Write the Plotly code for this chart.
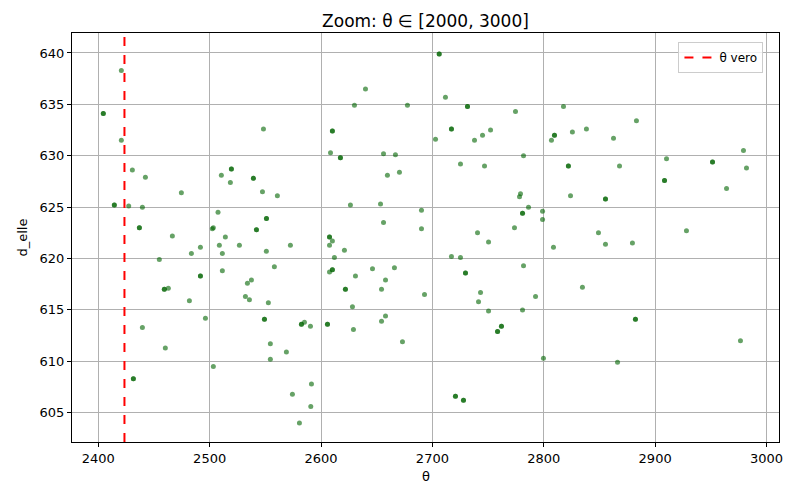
import plotly.graph_objects as go

# valori (i punti scuri sono campioni ripetuti -> compaiono due volte)
theta = [
    2420.7, 2404.5, 2404.5, 2420.7, 2548.3, 2430.6, 2442.3, 2519.5, 2519.5, 2510.5,
    2518.6, 2539.3, 2539.3, 2547.4, 2560.8, 2474.6, 2414.4, 2414.4, 2427.3, 2439.6,
    2507.5, 2551.0, 2551.0, 2436.9, 2436.9, 2502.4, 2503.3, 2542.0, 2542.0, 2466.5,
    2514.1,
    2706.1, 2706.1, 2639.9, 2630.0, 2677.6, 2711.7, 2731.5, 2731.5, 2774.6, 2610.2,
    2610.2, 2717.1, 2717.1, 2702.8, 2737.8, 2745.0, 2752.2, 2608.5, 2617.4, 2617.4,
    2656.1, 2666.8, 2781.8, 2725.2, 2746.8, 2659.6, 2670.4, 2779.1, 2778.2, 2786.3,
    2780.9, 2780.9, 2626.4, 2653.4, 2690.2, 2656.1, 2690.2, 2773.7, 2740.5, 2798.9,
    2798.9, 2607.6, 2607.6, 2610.2, 2750.4,
    2817.7, 2883.2, 2809.6, 2809.6, 2806.9, 2825.7, 2838.3, 2862.6, 2979.3, 2910.2,
    2822.1, 2822.1, 2868.0, 2951.5, 2951.5, 2982.0, 2908.4, 2908.4, 2964.1, 2824.0,
    2855.4, 2855.4, 2849.1, 2928.1,
    2808.7, 2855.4, 2879.6, 2834.7, 2882.3, 2882.3, 2976.6, 2799.7, 2866.2,
    2491.7, 2483.6, 2508.7, 2511.4, 2526.7, 2550.9, 2572.5, 2454.8, 2511.4, 2558.1,
    2491.7, 2491.7, 2459.3, 2459.3, 2462.9, 2533.9, 2537.5, 2481.8, 2532.1, 2535.7,
    2552.7, 2496.2, 2549.2, 2549.2, 2582.4, 2582.4, 2585.1, 2590.5, 2439.6, 2460.2,
    2554.5, 2568.9, 2554.5, 2503.3, 2431.5, 2431.5, 2574.3, 2590.8, 2580.6, 2591.4,
    2607.6, 2621.0, 2612.0, 2607.6, 2610.2, 2610.2, 2630.9, 2646.2, 2665.9, 2657.9,
    2654.3, 2621.9, 2621.9, 2692.9, 2628.2, 2657.9, 2654.3, 2673.1, 2605.8, 2605.8,
    2629.1, 2720.7, 2720.7, 2727.9, 2727.9, 2717.1, 2725.2, 2729.7, 2729.7, 2781.8,
    2743.2, 2741.4, 2750.4, 2780.9, 2792.6, 2762.0, 2762.0, 2758.5, 2758.5,
]
d_elle = [
    638.3, 634.1, 634.1, 631.5, 632.6, 628.6, 627.9, 628.7, 628.7, 628.1,
    627.4, 627.8, 627.8, 626.5, 626.1, 626.4, 625.2, 625.2, 625.1, 625.0,
    624.5, 623.9, 623.9, 623.0, 623.0, 622.9, 623.0, 622.8, 622.8, 622.2,
    622.1,
    639.9, 639.9, 636.5, 634.9, 634.9, 635.7, 634.8, 634.8, 634.3, 632.4,
    632.4, 632.6, 632.6, 631.6, 631.5, 632.0, 632.5, 630.3, 629.8, 629.8,
    630.2, 630.1, 630.0, 629.2, 629.0, 628.1, 628.4, 626.3, 626.0, 625.0,
    624.4, 624.4, 625.2, 625.3, 624.7, 623.5, 622.9, 623.0, 622.5, 624.6,
    623.8, 622.1, 622.1, 621.7, 621.6,
    634.8, 633.4, 632.0, 632.0, 631.5, 632.3, 632.6, 631.7, 630.5, 629.7,
    629.0, 629.0, 629.0, 629.4, 629.4, 628.8, 627.6, 627.6, 626.8, 626.1,
    625.8, 625.8, 622.5, 622.7,
    621.1, 621.4, 621.5, 617.2, 614.1, 614.1, 612.0, 610.3, 609.9,
    621.1, 620.5, 621.3, 620.5, 621.3, 620.7, 621.3, 619.9, 618.8, 619.2,
    618.3, 618.3, 617.0, 617.0, 617.1, 617.6, 617.9, 615.9, 616.3, 616.0,
    615.7, 614.2, 614.1, 614.1, 613.6, 613.6, 613.8, 613.4, 613.3, 611.3,
    611.7, 610.9, 610.2, 609.5, 608.3, 608.3, 606.8, 605.6, 604.0, 607.8,
    621.3, 620.8, 620.1, 618.7, 618.9, 618.9, 618.3, 619.0, 619.1, 617.9,
    617.0, 617.0, 617.0, 616.5, 615.3, 614.4, 613.9, 611.9, 613.6, 613.6,
    613.1, 606.6, 606.6, 606.2, 606.2, 620.2, 620.1, 618.6, 618.6, 619.3,
    616.7, 615.8, 614.9, 615.0, 616.3, 613.4, 613.4, 612.9, 612.9,
]
theta_vero = 2423.5

x_ticks = [2400, 2500, 2600, 2700, 2800, 2900, 3000]
y_ticks = [605, 610, 615, 620, 625, 630, 635, 640]

fig = go.Figure()

fig.add_trace(go.Scatter(
    x=theta, y=d_elle, mode="markers",
    marker=dict(size=5, color="darkgreen", opacity=0.6, line=dict(width=0)),
    showlegend=False,
))

# linea verticale del valore vero + voce di legenda
fig.add_vline(x=theta_vero, line=dict(color="red", width=2, dash="dash"))
fig.add_trace(go.Scatter(
    x=[None], y=[None], mode="lines", name="θ vero",
    line=dict(color="red", width=2, dash="dash"),
))

axis_style = dict(
    showline=True, linecolor="black", linewidth=1, mirror=True,
    ticks="outside", ticklen=4, tickcolor="black",
    showgrid=True, gridcolor="#b0b0b0", gridwidth=0.8,
    zeroline=False, tickfont=dict(size=13, color="black"), automargin=False,
)

# la pagina html ha 8px di margine: figura 792x492
fig.update_layout(
    width=792, height=492,
    margin=dict(l=64, r=21, t=25, b=58),
    paper_bgcolor="white", plot_bgcolor="white",
    font=dict(family="DejaVu Sans", color="black"),
    title=dict(text="Zoom: θ ∈ [2000, 3000]", x=0.5, xref="paper", xanchor="center",
               y=0.974, yanchor="middle", font=dict(size=17)),
    xaxis=dict(axis_style, range=[2376.4, 3011.2], tickvals=x_ticks),
    yaxis=dict(axis_style, range=[602.15, 641.94], tickvals=y_ticks),
    legend=dict(x=0.978, y=0.978, xanchor="right", yanchor="top",
                bgcolor="rgba(255,255,255,0.8)", bordercolor="#cccccc",
                borderwidth=1, font=dict(size=12), tracegroupgap=0),
)

# titoli degli assi come annotazioni (posizione come matplotlib)
fig.add_annotation(text="θ", xref="paper", yref="paper", x=0.5, y=0,
                   yshift=-34, yanchor="middle", showarrow=False,
                   font=dict(size=13))
fig.add_annotation(text="d_elle", xref="paper", yref="paper", x=0, y=0.5,
                   xshift=-50, xanchor="center", textangle=-90, showarrow=False,
                   font=dict(size=13))

fig.write_html("out.html")
